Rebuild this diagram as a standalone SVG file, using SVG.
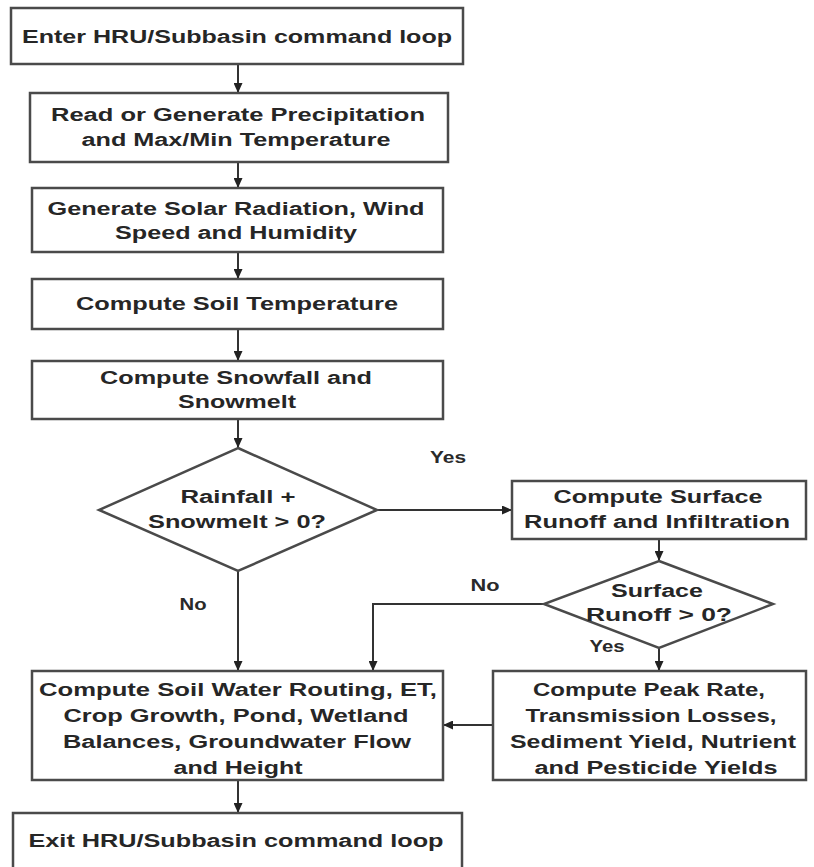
<svg xmlns="http://www.w3.org/2000/svg" width="814" height="867" viewBox="0 0 814 867">
<defs>
<marker id="ah" markerUnits="userSpaceOnUse" markerWidth="10" markerHeight="9" refX="10" refY="4.5" orient="auto">
<path d="M0,0 L10,4.5 L0,9 z" fill="#222"/>
</marker>
</defs>
<style>
.box{fill:#fff;stroke:#4a4a4a;stroke-width:2.5}
.t{font-family:"Liberation Sans",Arial,sans-serif;font-weight:bold;font-size:18px;fill:#262626;text-anchor:middle}
.l{font-family:"Liberation Sans",Arial,sans-serif;font-weight:bold;font-size:16px;fill:#2a2a2a;text-anchor:middle}
.c{stroke:#333;stroke-width:2;fill:none}
</style>
<rect width="814" height="867" fill="#fff"/>
<g id="connectors">
<path class="c" d="M238,64 V93" marker-end="url(#ah)"/>
<path class="c" d="M238,162 V188" marker-end="url(#ah)"/>
<path class="c" d="M238,252 V279" marker-end="url(#ah)"/>
<path class="c" d="M238,329 V361" marker-end="url(#ah)"/>
<path class="c" d="M238,419 V448" marker-end="url(#ah)"/>
<path class="c" d="M377,510 H512" marker-end="url(#ah)"/>
<path class="c" d="M659,539 V561" marker-end="url(#ah)"/>
<path class="c" d="M544,604 H373 V671" marker-end="url(#ah)"/>
<path class="c" d="M238,571 V671" marker-end="url(#ah)"/>
<path class="c" d="M659,648 V671" marker-end="url(#ah)"/>
<path class="c" d="M493,725 H443" marker-end="url(#ah)"/>
<path class="c" d="M238,780 V813" marker-end="url(#ah)"/>
<text class="l" x="448" y="463" textLength="36" lengthAdjust="spacingAndGlyphs">Yes</text>
<text class="l" x="485" y="591" textLength="29" lengthAdjust="spacingAndGlyphs">No</text>
<text class="l" x="193" y="610" textLength="27" lengthAdjust="spacingAndGlyphs">No</text>
<text class="l" x="607" y="652" textLength="35" lengthAdjust="spacingAndGlyphs">Yes</text>
</g>
<g id="enter">
<rect class="box" x="11" y="8" width="452" height="56"/>
<text class="t" x="237" y="42.5" textLength="430" lengthAdjust="spacingAndGlyphs">Enter HRU/Subbasin command loop</text>
</g>
<g id="precip">
<rect class="box" x="30" y="93" width="418" height="69"/>
<text class="t" x="238" y="121" textLength="374" lengthAdjust="spacingAndGlyphs">Read or Generate Precipitation</text>
<text class="t" x="236" y="146" textLength="309" lengthAdjust="spacingAndGlyphs">and Max/Min Temperature</text>
</g>
<g id="solar">
<rect class="box" x="32" y="188" width="411" height="64"/>
<text class="t" x="236" y="215" textLength="377" lengthAdjust="spacingAndGlyphs">Generate Solar Radiation, Wind</text>
<text class="t" x="236" y="239" textLength="242" lengthAdjust="spacingAndGlyphs">Speed and Humidity</text>
</g>
<g id="soiltemp">
<rect class="box" x="32" y="279" width="411" height="50"/>
<text class="t" x="237" y="310" textLength="322" lengthAdjust="spacingAndGlyphs">Compute Soil Temperature</text>
</g>
<g id="snow">
<rect class="box" x="32" y="361" width="411" height="58"/>
<text class="t" x="236" y="384" textLength="272" lengthAdjust="spacingAndGlyphs">Compute Snowfall and</text>
<text class="t" x="237" y="408" textLength="118" lengthAdjust="spacingAndGlyphs">Snowmelt</text>
</g>
<g id="rain-decision">
<polygon class="box" points="238,448 377,510 238,571 99,510"/>
<text class="t" x="238" y="503" textLength="115" lengthAdjust="spacingAndGlyphs">Rainfall +</text>
<text class="t" x="237" y="528" textLength="178" lengthAdjust="spacingAndGlyphs">Snowmelt &gt; 0?</text>
</g>
<g id="surface">
<rect class="box" x="512" y="481" width="294" height="58"/>
<text class="t" x="658" y="503" textLength="209" lengthAdjust="spacingAndGlyphs">Compute Surface</text>
<text class="t" x="657" y="528" textLength="266" lengthAdjust="spacingAndGlyphs">Runoff and Infiltration</text>
</g>
<g id="runoff-decision">
<polygon class="box" points="659,561 773,604 659,648 544,604"/>
<text class="t" x="657" y="597" textLength="92" lengthAdjust="spacingAndGlyphs">Surface</text>
<text class="t" x="659" y="621" textLength="146" lengthAdjust="spacingAndGlyphs">Runoff &gt; 0?</text>
</g>
<g id="soilwater">
<rect class="box" x="32" y="671" width="411" height="109"/>
<text class="t" x="238" y="696" textLength="398" lengthAdjust="spacingAndGlyphs">Compute Soil Water Routing, ET,</text>
<text class="t" x="236" y="722" textLength="345" lengthAdjust="spacingAndGlyphs">Crop Growth, Pond, Wetland</text>
<text class="t" x="237" y="748" textLength="348" lengthAdjust="spacingAndGlyphs">Balances, Groundwater Flow</text>
<text class="t" x="238" y="774" textLength="129" lengthAdjust="spacingAndGlyphs">and Height</text>
</g>
<g id="peak">
<rect class="box" x="493" y="671" width="313" height="109"/>
<text class="t" x="649" y="696" textLength="232" lengthAdjust="spacingAndGlyphs">Compute Peak Rate,</text>
<text class="t" x="651" y="722" textLength="251" lengthAdjust="spacingAndGlyphs">Transmission Losses,</text>
<text class="t" x="653" y="748" textLength="286" lengthAdjust="spacingAndGlyphs">Sediment Yield, Nutrient</text>
<text class="t" x="656" y="774" textLength="243" lengthAdjust="spacingAndGlyphs">and Pesticide Yields</text>
</g>
<g id="exit">
<rect class="box" x="13" y="813" width="449" height="70"/>
<text class="t" x="236" y="847" textLength="415" lengthAdjust="spacingAndGlyphs">Exit HRU/Subbasin command loop</text>
</g>
</svg>
